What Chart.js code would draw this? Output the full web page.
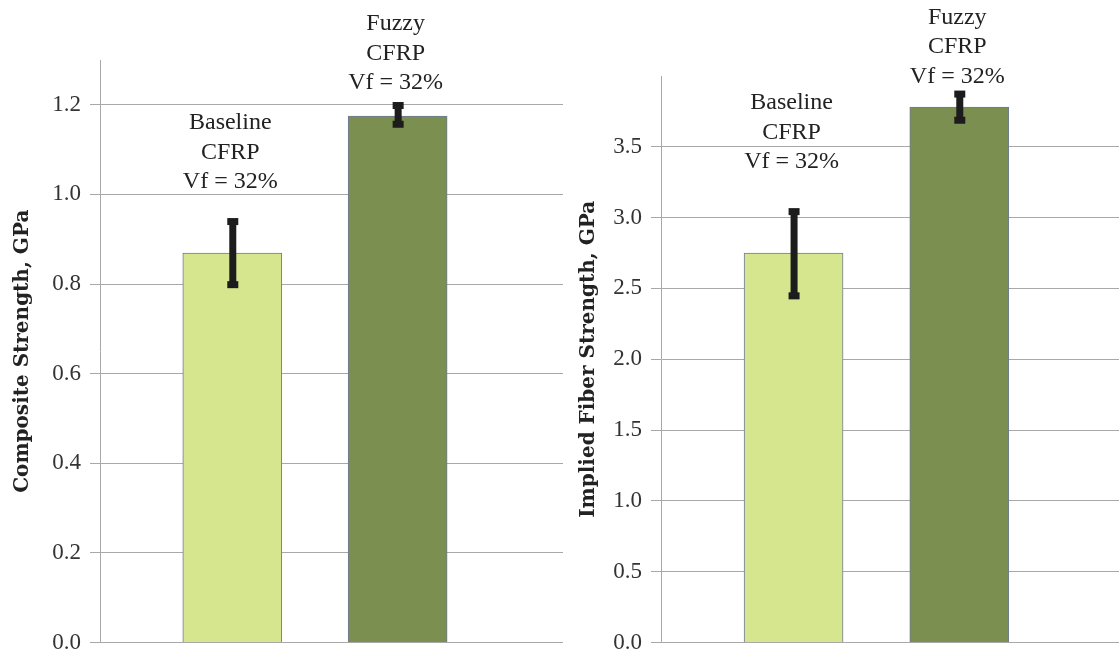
<!DOCTYPE html>
<html>
<head>
<meta charset="utf-8">
<script src="https://cdn.jsdelivr.net/npm/chart.js@4.4.1/dist/chart.umd.min.js"></script>
<style>
  html, body { margin: 0; padding: 0; background: #fff; overflow: hidden; }
  #wrap { position: relative; width: 1119px; height: 654px; overflow: hidden; }
  .box { position: absolute; top: 0; height: 663px; }
  #leftBox { left: 0; width: 566px; }
  #rightBox { left: 565px; width: 560px; }
</style>
</head>
<body>
<div id="wrap">
  <div class="box" id="leftBox"><canvas id="compositeChart"></canvas></div>
  <div class="box" id="rightBox"><canvas id="fiberChart"></canvas></div>
</div>
<script>
// two specimens, same fibre volume fraction
const categories = ['Baseline CFRP', 'Fuzzy CFRP'];
const categoryPos = [1, 2];
const barLabels = [['Baseline', 'CFRP', 'Vf = 32%'], ['Fuzzy', 'CFRP', 'Vf = 32%']];

const compositeStrength = [0.869, 1.175];
const compositeHigh = [0.945, 1.204];
const compositeLow = [0.793, 1.151];
const compositeTicks = [0, 0.2, 0.4, 0.6, 0.8, 1.0, 1.2];

const fiberStrength = [2.75, 3.78];
const fiberHigh = [3.06, 3.89];
const fiberLow = [2.43, 3.67];
const fiberTicks = [0, 0.5, 1.0, 1.5, 2.0, 2.5, 3.0, 3.5];

const barColors = ['#d6e68e', '#7b8f50'];

const errorBarPlugin = {
  id: 'errorBars',
  afterDatasetsDraw(chart, args, opts) {
    const ctx = chart.ctx;
    const y = chart.scales.y;
    const bars = chart.getDatasetMeta(0).data;
    ctx.save();
    bars.forEach((bar, i) => {
      const top = y.getPixelForValue(opts.high[i]);
      const bottom = y.getPixelForValue(opts.low[i]);
      ctx.fillStyle = '#1c1c1c';
      ctx.fillRect(bar.x - 3, top, 7, bottom - top);
      ctx.fillRect(bar.x - 5, top - 1, 11, 7);
      ctx.fillRect(bar.x - 5, bottom - 6, 11, 7);

      // text above each bar
      ctx.fillStyle = '#222';
      ctx.font = '24px "Liberation Serif"';
      ctx.textAlign = 'center';
      ctx.textBaseline = 'middle';
      const lines = barLabels[i];
      lines.forEach((txt, k) => {
        const ly = top - opts.gap[i] - (lines.length - 1 - k) * 29.5;
        ctx.fillText(txt, bar.x - 2, ly);
      });
    });
    ctx.restore();
  }
};

function makeChart(canvasId, values, high, low, tickList, maxY, title, pad, gap) {
  return new Chart(document.getElementById(canvasId), {
    type: 'bar',
    data: {
      labels: categories,
      datasets: [{
        data: values.map((v, i) => ({ x: categoryPos[i], y: v })),
        backgroundColor: barColors,
        borderColor: '#6f7a98',
        borderWidth: 1,
        barThickness: 99
      }]
    },
    plugins: [errorBarPlugin],
    options: {
      responsive: true,
      maintainAspectRatio: false,
      animation: false,
      layout: { padding: pad },
      plugins: {
        legend: { display: false },
        tooltip: { enabled: false },
        errorBars: { high: high, low: low, gap: gap }
      },
      scales: {
        x: { type: 'linear', display: false, offset: false, min: 0.2, max: 3.0 },
        y: {
          min: 0,
          max: maxY,
          afterBuildTicks: scale => { scale.ticks = tickList.map(v => ({ value: v })); },
          afterFit: scale => { scale.width = pad.axisWidth; },
          border: { display: true, color: '#a8a8a8' },
          grid: { color: '#a8a8a8', lineWidth: 1, tickLength: 10 },
          ticks: {
            padding: 9,
            color: '#333',
            font: { family: 'Liberation Serif', size: 23, lineHeight: 1 },
            callback: v => v.toFixed(1)
          },
          title: {
            display: true,
            text: title,
            color: '#222',
            font: { family: 'DejaVu Serif', weight: 'bold', size: 20 },
            padding: { top: pad.titleTop, bottom: 0 }
          }
        }
      }
    }
  });
}

makeChart('compositeChart', compositeStrength, compositeHigh, compositeLow, compositeTicks, 1.3,
  'Composite Strength, GPa', { top: 60, bottom: 0, right: 3, left: 0, axisWidth: 100, titleTop: 11 }, [37, 20]);

makeChart('fiberChart', fiberStrength, fiberHigh, fiberLow, fiberTicks, 4.0,
  'Implied Fiber Strength, GPa', { top: 76, bottom: 0, right: 0, left: 0, axisWidth: 96, titleTop: 12 }, [47, 15]);
</script>
</body>
</html>
